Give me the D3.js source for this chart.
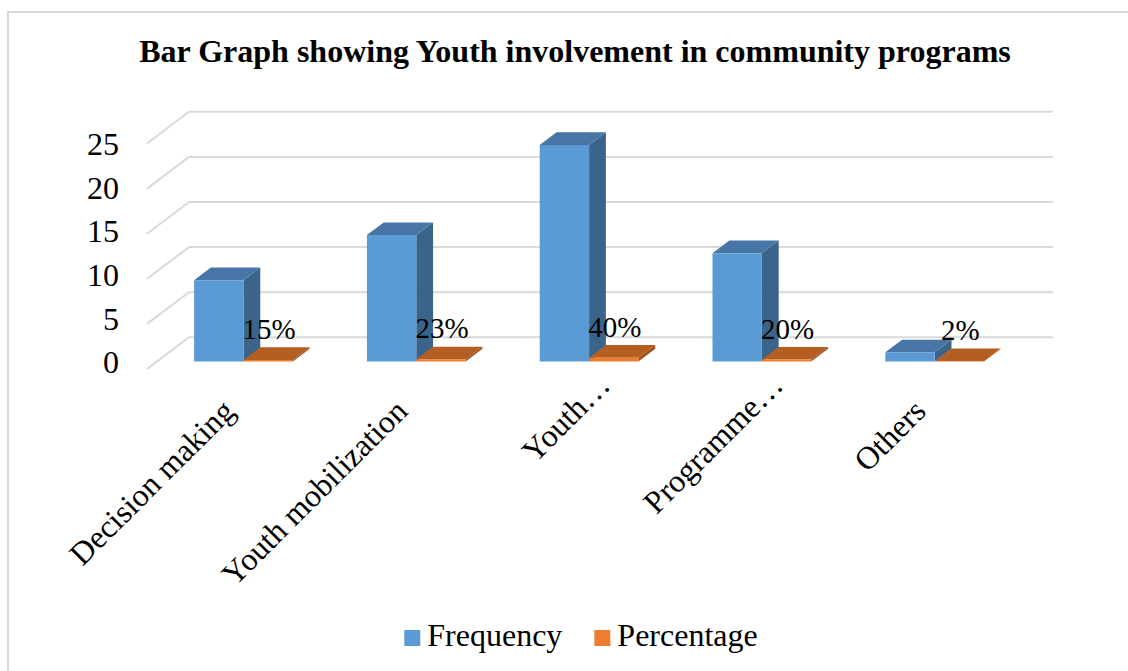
<!DOCTYPE html>
<html>
<head>
<meta charset="utf-8">
<script src="https://cdn.jsdelivr.net/npm/d3@7"></script>
<style>
  html, body { margin: 0; padding: 0; background: #fff; }
  svg { display: block; }
  svg text { font-family: "Liberation Serif", "Times New Roman", serif !important; fill: #000; }
</style>
</head>
<body>
<svg id="chart" width="1128" height="671"></svg>
<script>
// ---- data ----
const categories = ["Decision making", "Youth mobilization", "Youth…", "Programme…", "Others"];
const frequency = [9, 14, 24, 12, 1];
const percentage = [0.15, 0.23, 0.40, 0.20, 0.02];
const percentLabels = ["15%", "23%", "40%", "20%", "2%"];
const seriesNames = ["Frequency", "Percentage"];
const yTicks = [0, 5, 10, 15, 20, 25];
const title = "Bar Graph showing Youth involvement in community programs";

// ---- layout ----
const W = 1128, H = 671;
const svg = d3.select("#chart");
const SERIF = '"Liberation Serif", "Times New Roman", serif';
const DX = 42, DY = 31.7;         // depth offset of back wall
const D0 = 0.24, D1 = 0.64;       // bar depth range (fraction)
const colors = {
  Frequency: { front: "#5B9BD5", top: "#4675A6", side: "#3A6489" },
  Percentage: { front: "#ED7D31", top: "#B45E22", side: "#9E4F1B" }
};

// chart border
svg.append("rect").attr("x", 8).attr("y", 12).attr("width", W + 20).attr("height", H + 20)
  .attr("fill", "none").attr("stroke", "#D9D9D9").attr("stroke-width", 2);

// title
svg.append("text").attr("x", 575).attr("y", 62).attr("text-anchor", "middle")
  .style("font-family", SERIF).style("font-size", "32px").style("font-weight", "bold").text(title);

const x = d3.scaleBand().domain(categories).range([147, 1011]).padding(0);
const xs = d3.scaleBand().domain(seriesNames).range([0, x.bandwidth()]).paddingInner(0).paddingOuter(0.75);
const y = d3.scaleLinear().domain([0, 25]).range([369, 143.5]);
const yLab = d3.scaleLinear().domain([0, 25]).range([362.5, 144.5]);

// gridlines: back wall + left wall diagonals
const grid = svg.append("g");
yTicks.forEach(v => {
  grid.append("line")
    .attr("x1", x.range()[0] + DX).attr("x2", x.range()[1] + DX)
    .attr("y1", y(v) - DY).attr("y2", y(v) - DY)
    .attr("stroke", "#D9D9D9").attr("stroke-width", 2);
  grid.append("line")
    .attr("x1", x.range()[0]).attr("x2", x.range()[0] + DX)
    .attr("y1", y(v)).attr("y2", y(v) - DY)
    .attr("stroke", "#D9D9D9").attr("stroke-width", 2);
});

// y axis labels
const yAxis = d3.axisLeft(yLab).tickValues(yTicks).tickSize(0).tickPadding(0);
const yg = svg.append("g").attr("transform", "translate(119,0)").call(yAxis)
  .attr("font-family", SERIF).attr("font-size", 32);
yg.select(".domain").remove();
yg.selectAll("text").style("font-family", SERIF).style("font-size", "32px").attr("fill", "#000");

// 3D bars
function box(g, x0, w, v, c) {
  const y0 = y(0), yv = y(v);
  const fx0 = x0 + D0 * DX, fx1 = x0 + w + D0 * DX, bx0 = x0 + D1 * DX, bx1 = x0 + w + D1 * DX;
  const f = d => d * DY;
  g.append("polygon").attr("points", [[fx1, yv - f(D0)], [bx1, yv - f(D1)], [bx1, y0 - f(D1)], [fx1, y0 - f(D0)]].join(" "))
    .attr("fill", c.side);
  g.append("polygon").attr("points", [[fx0, yv - f(D0)], [fx1, yv - f(D0)], [bx1, yv - f(D1)], [bx0, yv - f(D1)]].join(" "))
    .attr("fill", c.top);
  g.append("polygon").attr("points", [[fx0, yv - f(D0)], [fx1, yv - f(D0)], [fx1, y0 - f(D0)], [fx0, y0 - f(D0)]].join(" "))
    .attr("fill", c.front);
}

const bars = svg.append("g");
categories.forEach((cat, i) => {
  const g = bars.append("g");
  box(g, x(cat) + xs("Frequency"), xs.bandwidth(), frequency[i], colors.Frequency);
  box(g, x(cat) + xs("Percentage"), xs.bandwidth(), percentage[i], colors.Percentage);
});

// data labels for percentage
categories.forEach((cat, i) => {
  const cx = x(cat) + xs("Percentage") + xs.bandwidth() / 2 + D0 * DX;
  svg.append("text").attr("x", cx + 1).attr("y", y(percentage[i]) - D0 * DY - 21)
    .attr("text-anchor", "middle").style("font-family", SERIF).style("font-size", "29px").text(percentLabels[i]);
});

// category labels (rotated)
categories.forEach(cat => {
  const cx = x(cat) + x.bandwidth() / 2;
  const trunc = cat.endsWith("…");
  const ex = cx + (trunc ? 33 : 3);
  const ey = y(0) + (trunc ? 18 : 44);
  svg.append("text").attr("transform", `translate(${ex},${ey}) rotate(-45)`)
    .attr("text-anchor", "end").style("font-family", SERIF).style("font-size", "32px").text(cat);
});

// legend
const leg = svg.append("g");
const items = seriesNames.map(n => {
  const t = leg.append("text").style("font-family", SERIF).style("font-size", "32px").text(n);
  return { n, t, w: t.node().getComputedTextLength() };
});
const sq = 16, gap1 = 7, gap2 = 32;
const total = items.reduce((s, it) => s + sq + gap1 + it.w, 0) + gap2 * (items.length - 1);
let lx = 581 - total / 2;
items.forEach(it => {
  leg.append("rect").attr("x", lx).attr("y", 630).attr("width", sq).attr("height", sq)
    .attr("fill", colors[it.n].front);
  it.t.attr("x", lx + sq + gap1).attr("y", 646);
  lx += sq + gap1 + it.w + gap2;
});
</script>
</body>
</html>
